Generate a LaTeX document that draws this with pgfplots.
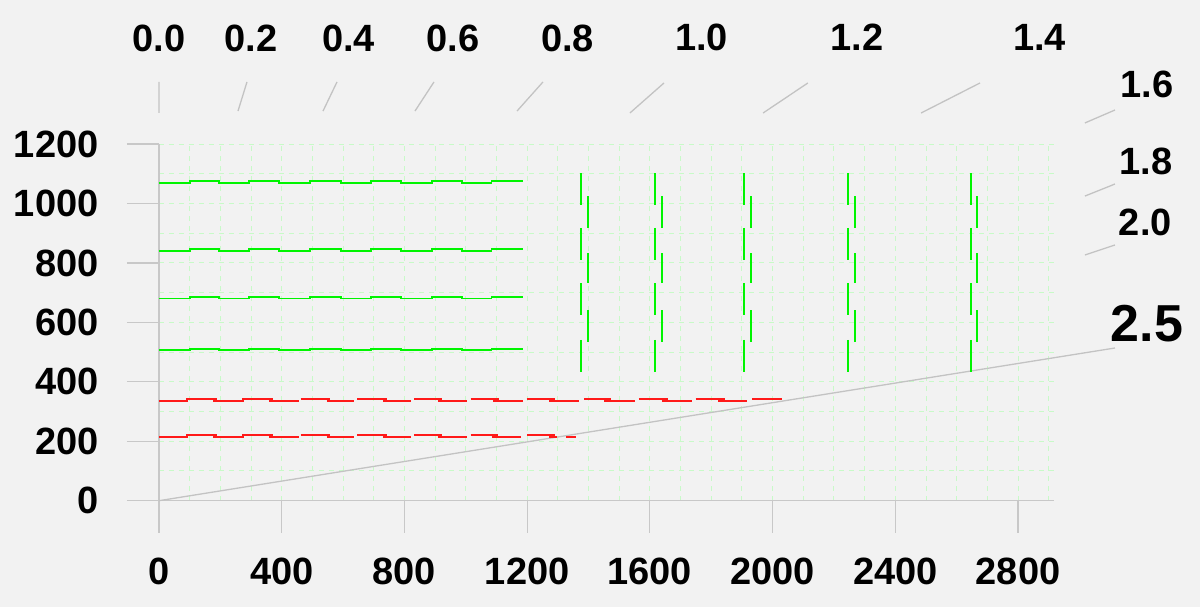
\documentclass[border=0pt]{standalone}
\usepackage{fontspec}
\setmainfont{Liberation Sans}
\usepackage{pgfplots}
\pgfplotsset{compat=1.18}
\definecolor{bg}{RGB}{242,242,242}
\definecolor{axgray}{RGB}{200,200,200}
\definecolor{slgray}{RGB}{195,195,195}
\definecolor{gridgreen}{RGB}{200,250,200}
\definecolor{lgreen}{RGB}{0,245,0}
\definecolor{lred}{RGB}{255,25,25}
\begin{document}
\begin{tikzpicture}
\path[use as bounding box, fill=bg] (-159pt,-106.3pt) rectangle (1041pt,500.7pt);
\begin{axis}[
  at={(0pt,0pt)}, anchor=origin,
  x=0.3068pt, y=0.2972pt,
  xmin=0, xmax=2918, ymin=0, ymax=1200,
  axis lines=left,
  axis line style={draw=axgray, line width=1.5pt, -},
  xtick={0,400,...,2800}, ytick={0,200,...,1200},
  minor xtick={100,200,...,2900}, minor ytick={100,200,...,1200},
  xminorgrids=true, yminorgrids=true,
  minor grid style={draw=gridgreen, dash pattern=on 5pt off 5pt, line width=1pt},
  tick align=outside,
  major tick length=32pt, minor tick length=0pt,
  tick style={draw=axgray, line width=1.2pt},
  ticklabel style={font=\fontsize{38}{40}\selectfont\bfseries},
  xticklabel style={yshift=-22pt},
  yticklabel style={xshift=-25pt},
  /pgf/number format/assume math mode=true,
  /pgf/number format/1000 sep={},
  scaled ticks=false,
  clip=false,
  unbounded coords=jump,
]
% gray slope guide lines
\addplot[slgray, line width=1.3pt] coordinates {
 (0,1305)(0,1409) (nan,nan)
 (257.5,1311)(286.8,1409) (nan,nan)
 (534.6,1311)(580.2,1409) (nan,nan)
 (834.4,1311)(896.3,1409) (nan,nan)
 (1166.9,1311)(1251.6,1409) (nan,nan)
 (1535,1304.5)(1646,1405.5) (nan,nan)
 (1969,1304.5)(2115,1405.5) (nan,nan)
 (2484,1304.5)(2676,1405.5) (nan,nan)
 (3018,1271)(3116,1314.6) (nan,nan)
 (3018,1025)(3116,1065.6) (nan,nan)
 (3018,826.7)(3116,860.4) (nan,nan)
 (0,0)(3116,513.8)
};
% green horizontal step lines
\addplot[lgreen, line width=1.8pt, const plot] coordinates {
 (0,841)(101,846.5)(196.6,841)(294,846.5)(392,841)(492,846.5)(592,841)(690,846.5)(788,841)(889,846.5)(986.6,841)(1084,846.5)(1187.5,846.5)};
\addplot[lgreen, line width=1.8pt, const plot] coordinates {
 (0,680)(101,685.5)(196.6,680)(294,685.5)(392,680)(492,685.5)(592,680)(690,685.5)(788,680)(889,685.5)(986.6,680)(1084,685.5)(1187.5,685.5)};
\addplot[lgreen, line width=1.8pt, const plot] coordinates {
 (0,506)(101,511.5)(196.6,506)(294,511.5)(392,506)(492,511.5)(592,506)(690,511.5)(788,506)(889,511.5)(986.6,506)(1084,511.5)(1187.5,511.5)};
\addplot[lgreen, line width=1.8pt, const plot] coordinates {
 (0,1069.5)(101,1075)(196.6,1069.5)(294,1075)(392,1069.5)(492,1075)(592,1069.5)(690,1075)(788,1069.5)(889,1075)(986.6,1069.5)(1084,1075)(1187.5,1075)};
% green vertical dash groups
\addplot[lgreen, line width=2pt] coordinates {
 (1374.5,1102.6)(1374.5,995.6) (nan,nan) (1374.5,917.6)(1374.5,810.8) (nan,nan) (1374.5,731.5)(1374.5,624.8) (nan,nan) (1374.5,540.7)(1374.5,434) (nan,nan)
 (1398,1023.9)(1398,917.6) (nan,nan) (1398,832.4)(1398,731.5) (nan,nan) (1398,641.6)(1398,535) (nan,nan)
 (1616.7,1102.6)(1616.7,995.6) (nan,nan) (1616.7,917.6)(1616.7,810.8) (nan,nan) (1616.7,731.5)(1616.7,624.8) (nan,nan) (1616.7,540.7)(1616.7,434) (nan,nan)
 (1640.5,1023.9)(1640.5,917.6) (nan,nan) (1640.5,832.4)(1640.5,731.5) (nan,nan) (1640.5,641.6)(1640.5,535) (nan,nan)
 (1905.8,1102.6)(1905.8,995.6) (nan,nan) (1905.8,917.6)(1905.8,810.8) (nan,nan) (1905.8,731.5)(1905.8,624.8) (nan,nan) (1905.8,540.7)(1905.8,434) (nan,nan)
 (1928.6,1023.9)(1928.6,917.6) (nan,nan) (1928.6,832.4)(1928.6,731.5) (nan,nan) (1928.6,641.6)(1928.6,535) (nan,nan)
 (2246.7,1102.6)(2246.7,995.6) (nan,nan) (2246.7,917.6)(2246.7,810.8) (nan,nan) (2246.7,731.5)(2246.7,624.8) (nan,nan) (2246.7,540.7)(2246.7,434) (nan,nan)
 (2269.5,1023.9)(2269.5,917.6) (nan,nan) (2269.5,832.4)(2269.5,731.5) (nan,nan) (2269.5,641.6)(2269.5,535) (nan,nan)
 (2645.7,1102.6)(2645.7,995.6) (nan,nan) (2645.7,917.6)(2645.7,810.8) (nan,nan) (2645.7,731.5)(2645.7,624.8) (nan,nan) (2645.7,540.7)(2645.7,434) (nan,nan)
 (2667.2,1023.9)(2667.2,917.6) (nan,nan) (2667.2,832.4)(2667.2,731.5) (nan,nan) (2667.2,641.6)(2667.2,535)
};
% red top line
\addplot[lred, line width=2pt] coordinates {
 (0,335.5)(92.2,335.5)(92.2,342)(189,342) (nan,nan)
 (177,335.5)(274.8,335.5)(274.8,342)(370,342) (nan,nan)
 (358,335.5)(457.3,335.5) (nan,nan)
 (461.9,342)(558,342) (nan,nan)
 (546,335.5)(635.6,335.5) (nan,nan)
 (646.4,342)(744,342) (nan,nan)
 (730,335.5)(820.4,335.5) (nan,nan)
 (831.2,342)(924,342) (nan,nan)
 (908,335.5)(1004.9,335.5) (nan,nan)
 (1016,342)(1108,342) (nan,nan)
 (1088,335.5)(1187.4,335.5) (nan,nan)
 (1198.5,342)(1292,342) (nan,nan)
 (1272,335.5)(1370,335.5) (nan,nan)
 (1385.3,342)(1474,342) (nan,nan)
 (1452,335.5)(1551.5,335.5) (nan,nan)
 (1564.5,342)(1660,342) (nan,nan)
 (1638,335.5)(1736.3,335.5) (nan,nan)
 (1749.3,342)(1845,342) (nan,nan)
 (1823,335.5)(1917.5,335.5) (nan,nan)
 (1933.8,342)(2029.7,342)
};
% red bottom line
\addplot[lred, line width=2pt] coordinates {
 (0,213.3)(92.2,213.3)(92.2,221)(189,221) (nan,nan)
 (177,213.3)(274.8,213.3)(274.8,221)(370,221) (nan,nan)
 (358,213.3)(457.3,213.3) (nan,nan)
 (461.9,221)(558,221) (nan,nan)
 (546,213.3)(635.6,213.3) (nan,nan)
 (646.4,221)(744,221) (nan,nan)
 (730,213.3)(820.4,213.3) (nan,nan)
 (831.2,221)(924,221) (nan,nan)
 (908,213.3)(1004.9,213.3) (nan,nan)
 (1016,221)(1104,221) (nan,nan)
 (1084,213.3)(1180,213.3) (nan,nan)
 (1200.5,221)(1291,221) (nan,nan)
 (1272,213.3)(1296,213.3) (nan,nan)
 (1326.6,213.3)(1359.2,213.3)
};
% top / right guide labels
\begin{scope}[font=\fontsize{38}{40}\selectfont\bfseries]
\node at (axis cs:0,1557) {0.0};
\node at (axis cs:300,1557) {0.2};
\node at (axis cs:617.7,1557) {0.4};
\node at (axis cs:958,1557) {0.6};
\node at (axis cs:1331.5,1557) {0.8};
\node at (axis cs:1768,1558) {1.0};
\node at (axis cs:2275,1558) {1.2};
\node at (axis cs:2870,1558) {1.4};
\node at (axis cs:3220,1402) {1.6};
\node at (axis cs:3217,1140) {1.8};
\node at (axis cs:3215,938) {2.0};
\end{scope}
\node[font=\fontsize{52}{54}\selectfont\bfseries] at (axis cs:3220,596) {2.5};
\end{axis}
\end{tikzpicture}
\end{document}
